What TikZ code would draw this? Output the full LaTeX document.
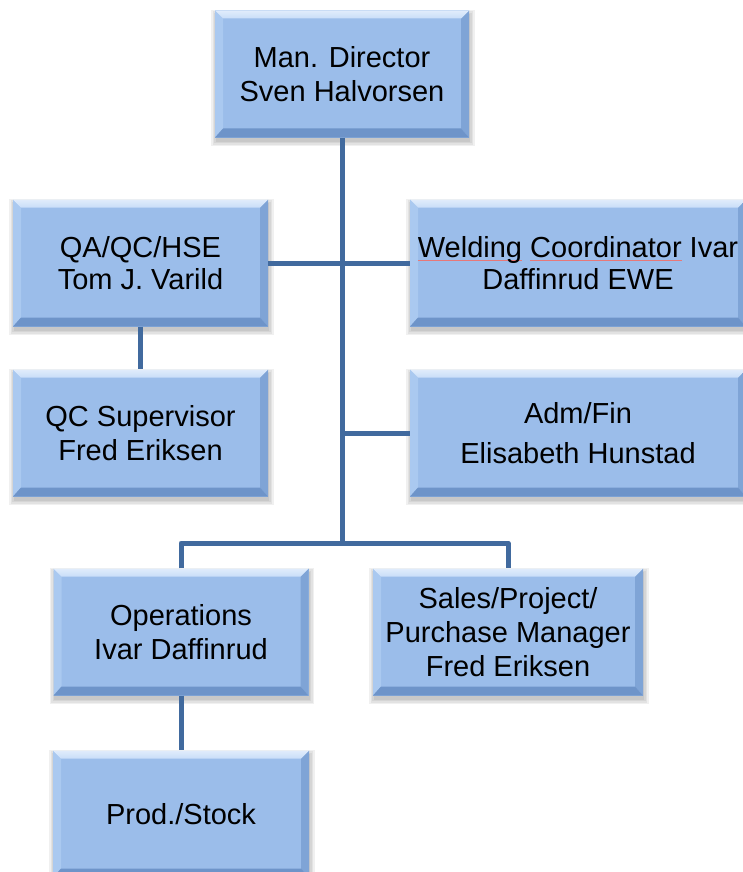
\documentclass[tikz,border=0pt]{standalone}
\usepackage{fontspec}
\setmainfont{Liberation Sans}
\usetikzlibrary{backgrounds}
\definecolor{boxfill}{RGB}{155,189,234}
\definecolor{bvtopc}{RGB}{200,221,248}
\definecolor{bvleftc}{RGB}{170,201,240}
\definecolor{bvrightc}{RGB}{127,164,214}
\definecolor{bvbotc}{RGB}{110,148,201}
\definecolor{linkc}{RGB}{65,106,158}
\definecolor{spellred}{RGB}{232,120,120}
\newcommand\spellmark[1]{\setbox0=\hbox{#1}\rlap{\textcolor{spellred}{\rule[-3pt]{\wd0}{0.8pt}}}\box0\relax}
\tikzset{
  bevel/.style={path picture={
    \coordinate (bvnw) at (path picture bounding box.north west);
    \coordinate (bvne) at (path picture bounding box.north east);
    \coordinate (bvsw) at (path picture bounding box.south west);
    \coordinate (bvse) at (path picture bounding box.south east);
    \fill[bvleftc] (bvnw) -- ([shift={(8pt,-8pt)}]bvnw) -- ([shift={(8pt,9pt)}]bvsw) -- (bvsw) -- cycle;
    \fill[bvrightc] (bvne) -- ([shift={(-8pt,-8pt)}]bvne) -- ([shift={(-8pt,9pt)}]bvse) -- (bvse) -- cycle;
    \shade[top color=bvtopc!55!white, bottom color=bvtopc] (bvnw) -- (bvne) -- ([shift={(-8pt,-8pt)}]bvne) -- ([shift={(8pt,-8pt)}]bvnw) -- cycle;
    \fill[bvbotc] (bvsw) -- (bvse) -- ([shift={(-8pt,9pt)}]bvse) -- ([shift={(8pt,9pt)}]bvsw) -- cycle;
  }},
  orgbox/.style={rectangle, fill=boxfill, inner sep=0pt, align=center, text=black,
    font=\fontsize{29}{34}\selectfont, minimum height=127pt, bevel},
  link/.style={draw=linkc, line width=5pt, line join=round},
}
\begin{document}
\begin{tikzpicture}[x=1pt, y=-1pt]
\useasboundingbox (0,0) rectangle (742,872);
% boxes
\node[orgbox, minimum width=254pt] (md) at (342,74) {Man. Director\\Sven Halvorsen};
\node[orgbox, minimum width=255pt] (qa) at (140.5,263) {QA/QC/HSE\\[-2pt]Tom J. Varild};
\node[orgbox, minimum width=255pt] (qc) at (140.5,433) {QC Supervisor\\Fred Eriksen};
\node[orgbox, minimum width=336pt] (weld) at (578,263) {\spellmark{Welding} \spellmark{Coordinator} Ivar\\[-2pt]Daffinrud EWE};
\node[orgbox, minimum width=336pt] (adm) at (578,433) {Adm/Fin\\[6pt]Elisabeth Hunstad};
\node[orgbox, minimum width=255pt] (ops) at (181,632) {Operations\\Ivar Daffinrud};
\node[orgbox, minimum width=270pt] (sales) at (508,632) {Sales/Project/\\Purchase Manager\\Fred Eriksen};
\node[orgbox, minimum width=256pt] (prod) at (181,814) {Prod./Stock};
% shadows
\begin{scope}[on background layer]
\foreach \n in {md,qa,qc,weld,adm,ops,sales,prod}{
  \foreach \k in {0,1.5,3,4.5}{
    \fill[black, opacity=0.06] ([shift={({(1-\k)*1pt},{(-4-\k)*1pt})}]\n.south west) rectangle ([shift={({(1+\k)*1pt},{(-4+\k)*1pt})}]\n.north east);
  }}
\end{scope}
% connectors
\coordinate (bus) at (342,543);
\draw[link] (md.south) -- (bus);
\draw[link] (qa.east) -- (weld.west);
\draw[link] (adm.west) -- (adm.west -| bus);
\draw[link] (ops.north) |- (bus) -| (sales.north);
\draw[link] (qa.south) -- (qc.north);
\draw[link] (ops.south) -- (prod.north);
\end{tikzpicture}
\end{document}
